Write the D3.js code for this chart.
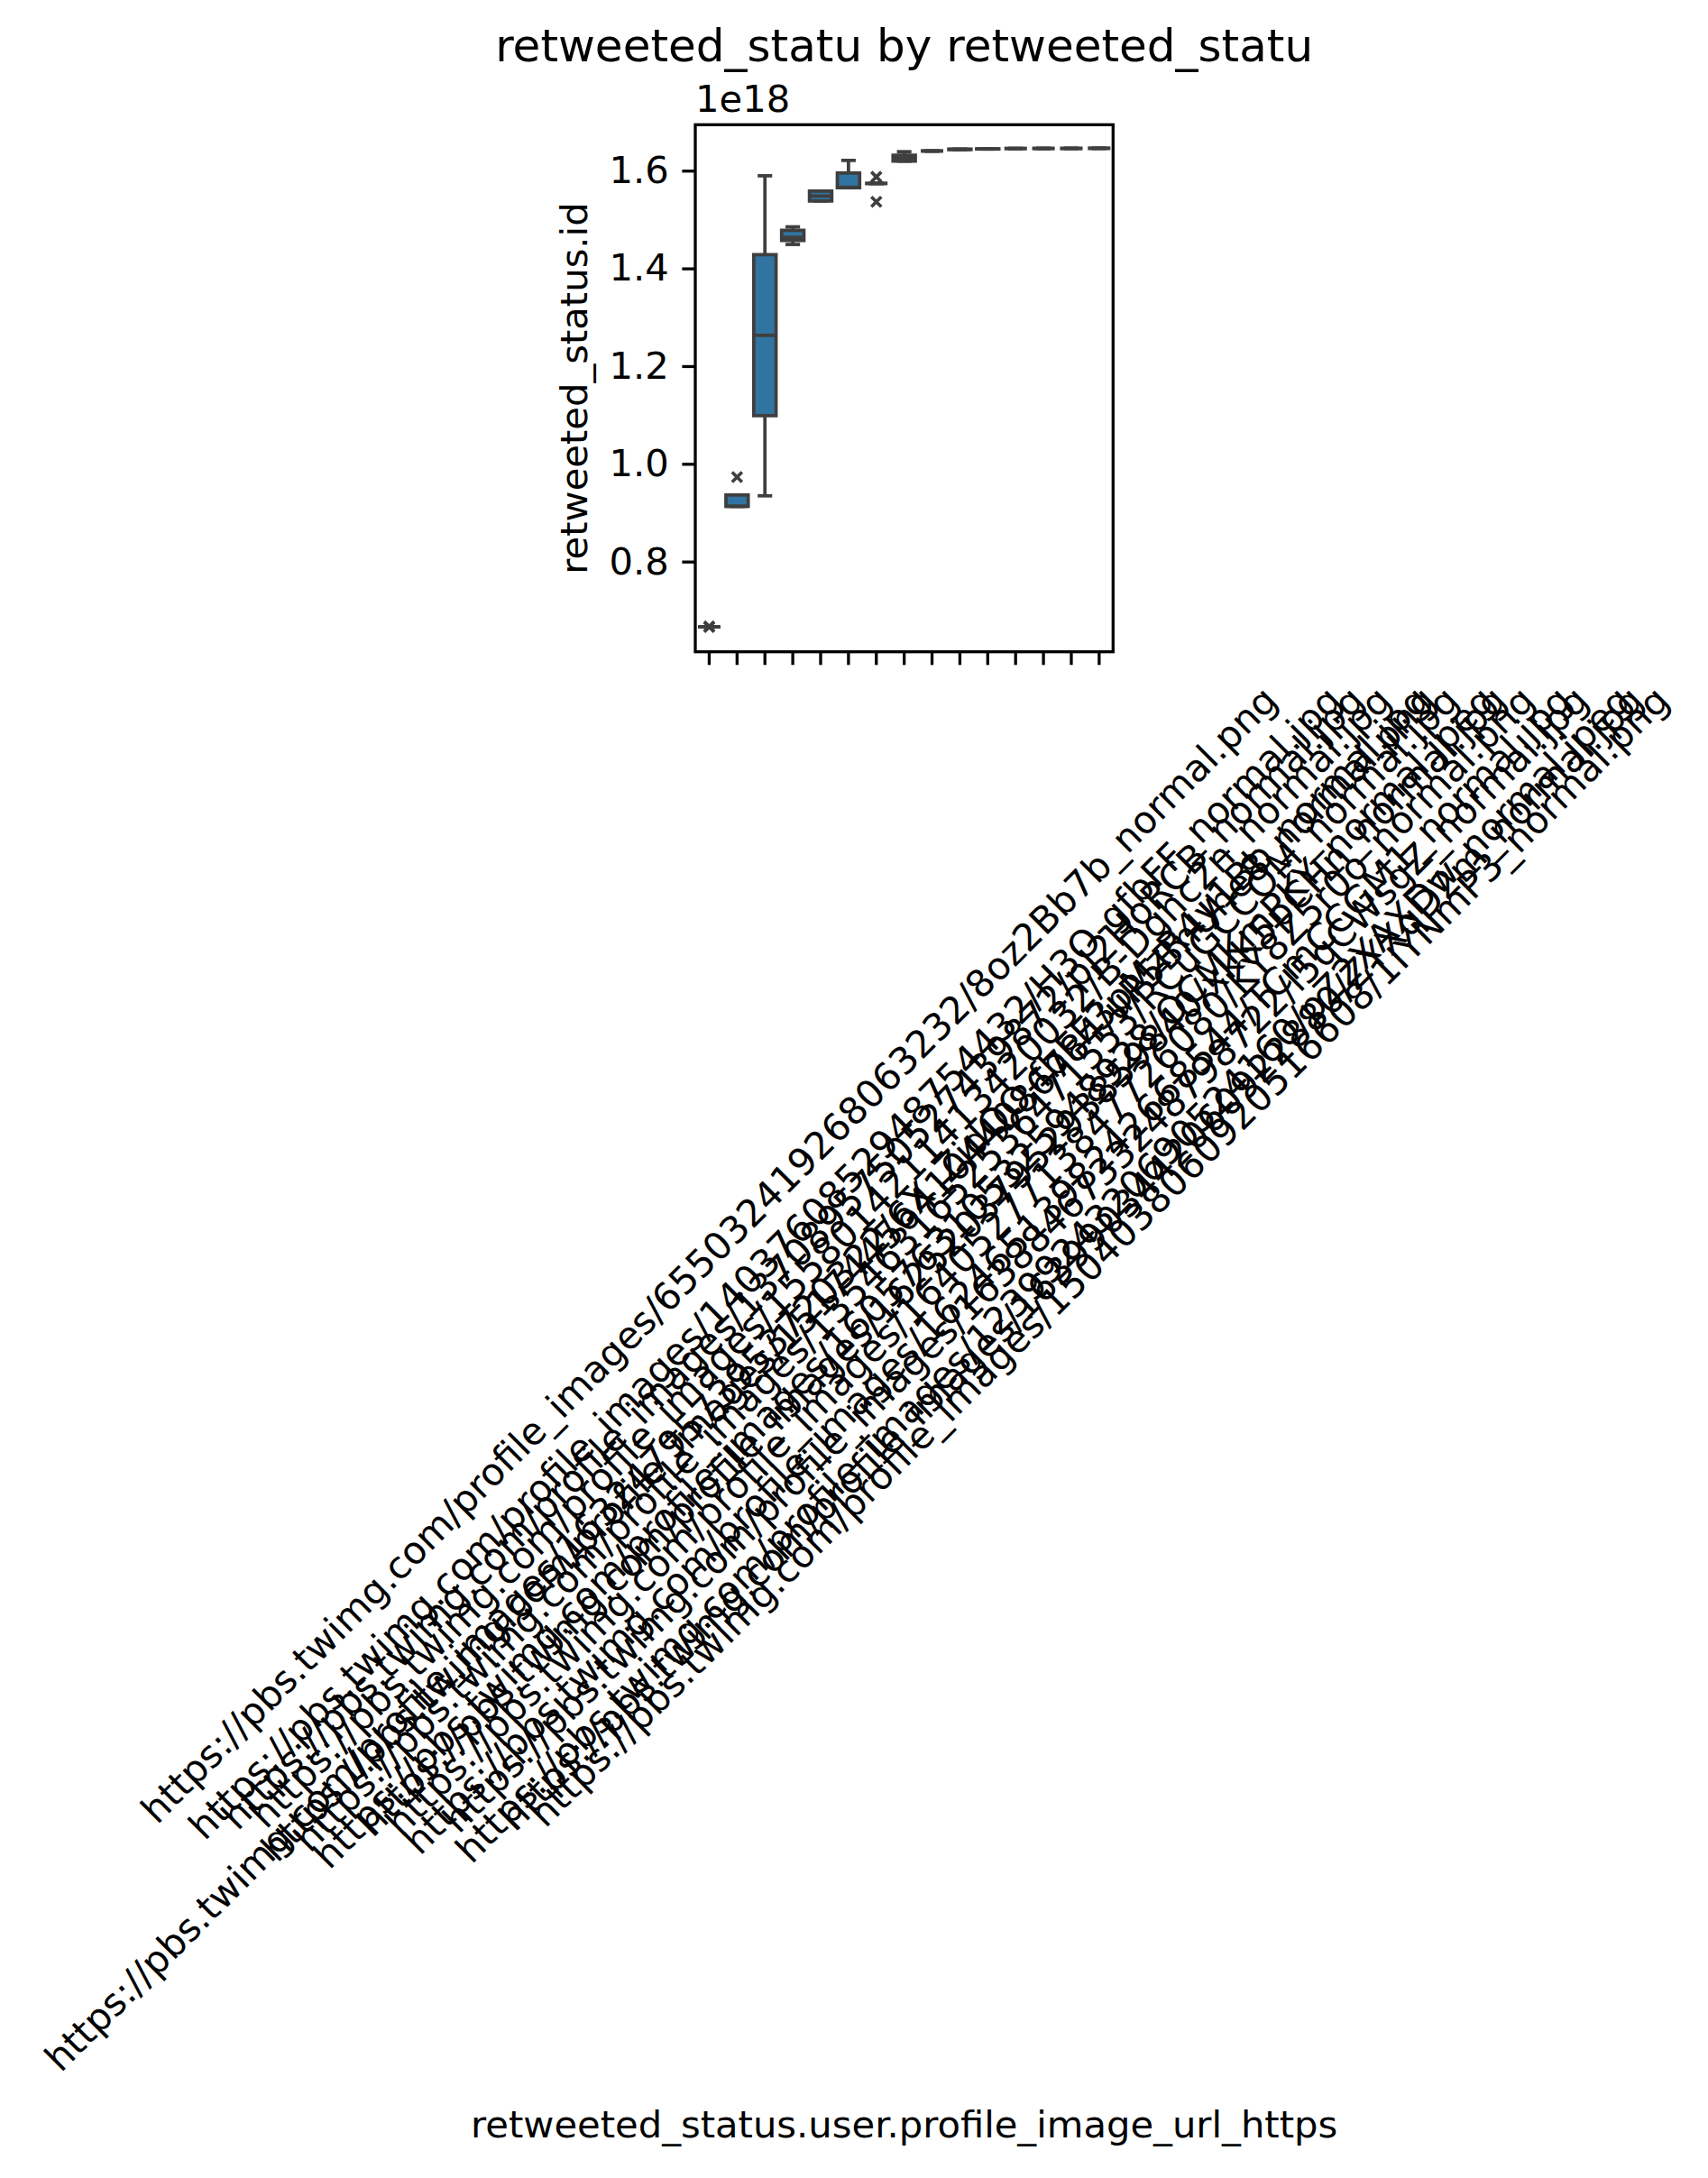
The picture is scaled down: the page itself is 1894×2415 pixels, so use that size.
<!DOCTYPE html>
<html>
<head>
<meta charset="utf-8">
<script src="https://cdn.jsdelivr.net/npm/d3@7"></script>
<style>
  body { margin: 0; background: #fff; }
  text { font-family: "DejaVu Sans", sans-serif; fill: #000; }
</style>
</head>
<body>
<div id="chart"></div>
<script>
var width = 1894,
	height = 2415,
	fontSize = 41.7,
	tickLen = 14.6,
	tickPad = 14.6,
	lineW = 3.75,
	edgeColor = '#3f3f3f',
	boxColor = '#3274a1';

// x categories (profile image urls)
var categories = [
	"https://pbs.twimg.com/profile_images/655032419268063232/8oz2Bb7b_normal.png",
	"https://pbs.twimg.com/profile_images/1632479573953720322/6X_ZjdQO-fbFF3pMzR4y1Bb_normal.jpg",
	"https://pbs.twimg.com/profile_images/1403760852948754432/H3O-gfbFF_normal.jpg",
	"https://pbs.twimg.com/profile_images/1370895750527439872/pJ2HoRCB_normal.jpg",
	"https://pbs.twimg.com/profile_images/1558014211413420032/B-Dghc2n_normal.jpg",
	"https://pbs.twimg.com/profile_images/1517445641044086784/uP5BnUhe8_normal.png",
	"https://pbs.twimg.com/profile_images/1354631652536471553/RCuGCCOM_normal.jpg",
	"https://pbs.twimg.com/profile_images/1605763105325948928/OCMKmPKY_normal.jpeg",
	"https://pbs.twimg.com/profile_images/1625203795293859840/xkK5pCHn_normal.jpg",
	"https://pbs.twimg.com/profile_images/1640527713847726080/KY8Z5r0o_normal.png",
	"https://pbs.twimg.com/profile_images/1624651398242668544/TCmCCGM1_normal.jpg",
	"https://pbs.twimg.com/profile_images/1638846733248798722/l5qCWsgZ_normal.jpg",
	"https://pbs.twimg.com/profile_images/1239924320690524160/pZ2XAXDw_normal.jpeg",
	"https://pbs.twimg.com/profile_images/1639903442060922880/ZYXqD2m_normal.jpg",
	"https://pbs.twimg.com/profile_images/1504038060920516608/1IYNmP3_normal.png"
];

// retweeted_status.id, in units of 1e18
var whiskerLow  = [0.6665, 0.9130, 0.9346, 1.4490, 1.5380, 1.5650, 1.5738, 1.6195, 1.6402, 1.6432, 1.6443, 1.6453, 1.6455, 1.6456, 1.6457];
var q1          = [0.6665, 0.9130, 1.0985, 1.4570, 1.5380, 1.5650, 1.5738, 1.6195, 1.6402, 1.6432, 1.6443, 1.6453, 1.6455, 1.6456, 1.6457];
var medians     = [0.6665, 0.9130, 1.2630, 1.4636, 1.5480, 1.5660, 1.5738, 1.6250, 1.6402, 1.6436, 1.6445, 1.6453, 1.6455, 1.6456, 1.6457];
var q3          = [0.6665, 0.9360, 1.4280, 1.4780, 1.5580, 1.5950, 1.5738, 1.6315, 1.6402, 1.6440, 1.6447, 1.6453, 1.6455, 1.6456, 1.6457];
var whiskerHigh = [0.6665, 0.9360, 1.5895, 1.4850, 1.5580, 1.6210, 1.5738, 1.6388, 1.6402, 1.6440, 1.6447, 1.6453, 1.6455, 1.6456, 1.6457];
var fliers      = [[0.6660, 0.6672], [0.9730], [], [], [], [], [1.5873, 1.5364], [], [], [], [], [], [], [], []];

var yTicks = [0.8, 1.0, 1.2, 1.4, 1.6];

var svg = d3.select("#chart").append("svg")
	.attr("width", width)
	.attr("height", height);

svg.append("rect")
	.attr("width", width)
	.attr("height", height)
	.attr("fill", "#fff");

var plotLeft = 771, plotRight = 1234.3, plotTop = 138.3, plotBottom = 722.7;

var x = d3.scaleBand()
	.domain(categories)
	.range([plotLeft, plotRight])
	.padding(0);

var y = d3.scaleLinear()
	.domain([0.6154, 1.694])
	.range([plotBottom, plotTop]);

var bw = x.bandwidth(),
	boxW = bw * 0.8,
	capW = bw * 0.4;

var boxes = categories.map(function(c, i) {
	return {
		cat: c,
		lo: whiskerLow[i], q1: q1[i], med: medians[i], q3: q3[i], hi: whiskerHigh[i],
		fliers: fliers[i]
	};
});

function cx(d) { return x(d.cat) + bw / 2; }

var g = svg.append("g").attr("class", "boxes");

// whiskers
g.selectAll("line.whisk-lo")
	.data(boxes)
	.enter()
	.append("line")
	.attr("x1", cx).attr("x2", cx)
	.attr("y1", function(d) { return y(d.q1); })
	.attr("y2", function(d) { return y(d.lo); })
	.attr("stroke", edgeColor)
	.attr("stroke-width", lineW);

g.selectAll("line.whisk-hi")
	.data(boxes)
	.enter()
	.append("line")
	.attr("x1", cx).attr("x2", cx)
	.attr("y1", function(d) { return y(d.q3); })
	.attr("y2", function(d) { return y(d.hi); })
	.attr("stroke", edgeColor)
	.attr("stroke-width", lineW);

// caps
["lo", "hi"].forEach(function(k) {
	g.selectAll("line.cap-" + k)
		.data(boxes)
		.enter()
		.append("line")
		.attr("x1", function(d) { return cx(d) - capW / 2; })
		.attr("x2", function(d) { return cx(d) + capW / 2; })
		.attr("y1", function(d) { return y(d[k]); })
		.attr("y2", function(d) { return y(d[k]); })
		.attr("stroke", edgeColor)
		.attr("stroke-width", lineW)
		.attr("stroke-linecap", "square");
});

// boxes, drawn as paths so flat ones still show
g.selectAll("path.box")
	.data(boxes)
	.enter()
	.append("path")
	.attr("d", function(d) {
		var x0 = cx(d) - boxW / 2, x1 = cx(d) + boxW / 2;
		var y0 = y(d.q3), y1 = y(d.q1);
		return "M" + x0 + "," + y0 + "H" + x1 + "V" + y1 + "H" + x0 + "Z";
	})
	.attr("fill", boxColor)
	.attr("stroke", edgeColor)
	.attr("stroke-width", lineW)
	.attr("stroke-linejoin", "miter");

// medians
g.selectAll("line.median")
	.data(boxes)
	.enter()
	.append("line")
	.attr("x1", function(d) { return cx(d) - boxW / 2; })
	.attr("x2", function(d) { return cx(d) + boxW / 2; })
	.attr("y1", function(d) { return y(d.med); })
	.attr("y2", function(d) { return y(d.med); })
	.attr("stroke", edgeColor)
	.attr("stroke-width", lineW);

// fliers as x markers
var flierPts = [];
boxes.forEach(function(d) {
	d.fliers.forEach(function(v) { flierPts.push({ cat: d.cat, v: v }); });
});
var m = 5.5;
g.selectAll("path.flier")
	.data(flierPts)
	.enter()
	.append("path")
	.attr("d", function(d) {
		var px = cx(d), py = y(d.v);
		return "M" + (px - m) + "," + (py - m) + "L" + (px + m) + "," + (py + m) +
			"M" + (px - m) + "," + (py + m) + "L" + (px + m) + "," + (py - m);
	})
	.attr("fill", "none")
	.attr("stroke", edgeColor)
	.attr("stroke-width", 3.6);

// frame
svg.append("rect")
	.attr("x", plotLeft)
	.attr("y", plotTop)
	.attr("width", plotRight - plotLeft)
	.attr("height", plotBottom - plotTop)
	.attr("fill", "none")
	.attr("stroke", "#000")
	.attr("stroke-width", 3.3);

// y axis
var yAxis = svg.append("g")
	.attr("transform", "translate(" + plotLeft + ",0)")
	.call(d3.axisLeft(y)
		.tickValues(yTicks)
		.tickFormat(d3.format(".1f"))
		.tickSize(tickLen)
		.tickPadding(tickPad)
		.tickSizeOuter(0));
yAxis.select(".domain").remove();
yAxis.selectAll("line").attr("stroke", "#000").attr("stroke-width", 3.3);
yAxis.selectAll("text")
	.attr("font-size", fontSize)
	.attr("font-family", "DejaVu Sans");

// x axis
var xAxis = svg.append("g")
	.attr("transform", "translate(0," + plotBottom + ")")
	.call(d3.axisBottom(x)
		.tickSize(tickLen)
		.tickSizeOuter(0));
xAxis.select(".domain").remove();
xAxis.selectAll("line").attr("stroke", "#000").attr("stroke-width", 3.3);
xAxis.selectAll("text")
	.attr("font-size", fontSize)
	.attr("font-family", "DejaVu Sans")
	.attr("text-anchor", "middle")
	.attr("dy", null)
	.attr("y", 0.346 * fontSize)
	.each(function() {
		var w = this.getComputedTextLength();
		var h = 1.164 * fontSize;
		var b = 0.3535 * (w + h);
		d3.select(this).attr("transform",
			"translate(0," + (tickLen + tickPad + b) + ") rotate(-45)");
	});

// offset text
svg.append("text")
	.attr("x", plotLeft)
	.attr("y", 124)
	.attr("font-size", fontSize)
	.text("1e18");

// title
svg.append("text")
	.attr("x", (plotLeft + plotRight) / 2)
	.attr("y", 68)
	.attr("text-anchor", "middle")
	.attr("font-size", 50)
	.text("retweeted_statu by retweeted_statu");

// axis labels
svg.append("text")
	.attr("transform", "translate(651," + ((plotTop + plotBottom) / 2) + ") rotate(-90)")
	.attr("text-anchor", "middle")
	.attr("font-size", fontSize)
	.text("retweeted_status.id");

svg.append("text")
	.attr("x", (plotLeft + plotRight) / 2)
	.attr("y", 2370)
	.attr("text-anchor", "middle")
	.attr("font-size", fontSize)
	.text("retweeted_status.user.profile_image_url_https");
</script>
</body>
</html>
